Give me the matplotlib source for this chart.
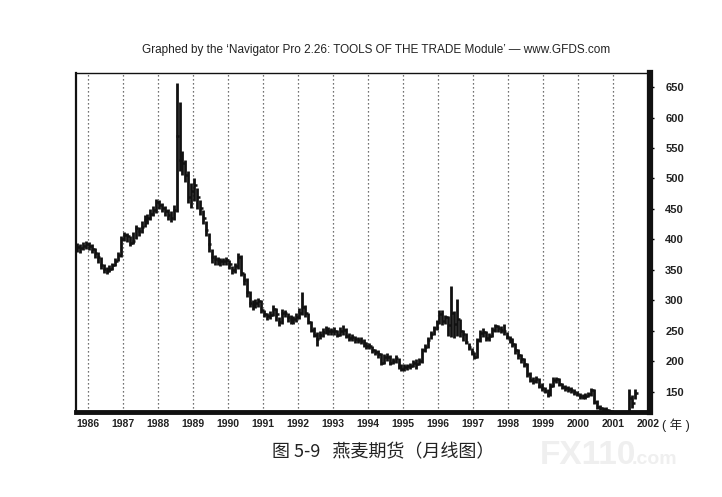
import matplotlib
matplotlib.use('Agg')
import matplotlib.pyplot as plt
import numpy as np

plt.rcParams['font.family'] = ['Liberation Sans', 'Noto Sans CJK SC', 'DejaVu Sans']

# monthly oats futures bars, Sep 1985 .. Aug 2001
first_year, first_month = 1985, 9

close = [
    388, 386, 390, 392,
    390, 385, 378, 372, 358, 352, 348, 352, 358, 365, 375, 400,
    407, 405, 395, 398, 418, 414, 420, 432, 436, 441, 448, 462,
    457, 452, 446, 440, 436, 448, 570, 530, 525, 505, 470, 480,
    490, 470, 452, 436, 415, 392, 372, 368, 366, 365, 364, 367,
    360, 350, 356, 372, 345, 334, 313, 296, 292, 295, 299, 285,
    277, 274, 276, 286, 278, 265, 280, 280, 272, 270, 269, 272,
    280, 290, 280, 265, 252, 244, 236, 244, 248, 253, 250, 250,
    250, 244, 250, 252, 241, 239, 240, 236, 235, 234, 230, 226,
    225, 219, 215, 212, 198, 207, 208, 197, 200, 205, 193, 188,
    190, 192, 193, 197, 196, 200, 218, 224, 235, 245, 255, 265,
    278, 266, 272, 260, 280, 262, 270, 250, 245, 232, 224, 216,
    208, 235, 247, 248, 238, 242, 252, 258, 255, 252, 250, 240,
    236, 228, 218, 210, 204, 196, 180, 170, 168, 171, 160, 157,
    152, 146, 160, 170, 171, 163, 158, 157, 155, 153, 150, 147,
    143, 141, 144, 146, 153, 134, 126, 123, 122, 121, 118, 114,
    110, 106, 104, 102, 100, 140, 132, 148,
]
high = [
    395, 392, 396, 398,
    396, 392, 386, 380, 372, 360, 355, 358, 362, 370, 380, 405,
    412, 410, 406, 412, 424, 420, 430, 440, 442, 450, 455, 467,
    465, 460, 455, 450, 446, 456, 657, 626, 545, 530, 512, 492,
    501, 485, 465, 448, 430, 410, 385, 375, 372, 370, 370, 372,
    366, 356, 362, 377, 375, 345, 336, 315, 300, 302, 304, 300,
    285, 280, 282, 292, 288, 272, 286, 285, 280, 276, 275, 280,
    288, 313, 292, 280, 266, 256, 248, 250, 254, 258, 256, 255,
    256, 252, 256, 260, 254, 246, 245, 242, 240, 240, 236, 232,
    230, 226, 220, 218, 214, 212, 213, 210, 206, 210, 206, 195,
    195, 196, 198, 202, 204, 206, 222, 228, 240, 250, 258, 268,
    285, 285, 276, 275, 324, 282, 302, 269, 252, 246, 230, 222,
    215, 238, 252, 254, 250, 246, 256, 262, 260, 258, 262, 248,
    242, 238, 230, 220, 212, 206, 198, 182, 174, 176, 172, 164,
    158, 155, 164, 174, 175, 172, 165, 162, 160, 158, 155, 152,
    148, 146, 148, 150, 156, 154, 136, 128, 126, 125, 122, 120,
    114, 110, 108, 106, 104, 155, 145, 155,
]
low = [
    380, 378, 383, 384,
    382, 378, 370, 362, 352, 345, 344, 346, 350, 356, 364, 372,
    398, 396, 390, 392, 400, 406, 410, 420, 426, 432, 438, 444,
    450, 445, 438, 432, 428, 432, 445, 512, 506, 495, 460, 452,
    463, 450, 440, 425, 405, 380, 362, 358, 358, 356, 358, 358,
    352, 343, 345, 352, 340, 326, 305, 290, 285, 288, 290, 280,
    272, 268, 270, 275, 266, 258, 262, 272, 265, 262, 262, 265,
    270, 276, 272, 262, 248, 240, 225, 236, 240, 245, 244, 243,
    244, 240, 242, 244, 238, 234, 234, 230, 230, 228, 224, 220,
    220, 214, 210, 205, 194, 196, 200, 194, 195, 198, 188, 184,
    184, 186, 188, 190, 188, 194, 198, 215, 222, 236, 244, 252,
    262, 260, 262, 242, 240, 238, 242, 240, 233, 228, 218, 210,
    204, 206, 232, 240, 234, 234, 240, 248, 248, 246, 244, 236,
    230, 224, 212, 204, 198, 190, 174, 166, 163, 164, 156, 152,
    148, 142, 144, 158, 164, 160, 155, 152, 150, 148, 145, 143,
    139, 138, 139, 141, 144, 130, 122, 120, 119, 117, 113, 110,
    106, 102, 100, 98, 96, 98, 124, 139,
]

year_labels = list(range(1986, 2003))
price_ticks = [150, 200, 250, 300, 350, 400, 450, 500, 550, 600, 650]

title = "Graphed by the \u2018Navigator Pro 2.26: TOOLS OF THE TRADE Module\u2019 \u2014 www.GFDS.com"
caption = "图 5-9   燕麦期货（月线图）"

n = len(close)
t = first_year + (first_month - 1 + np.arange(n) + 0.5) / 12.0

fig = plt.figure(figsize=(7.22, 4.97), dpi=100)
ax = fig.add_axes([76 / 722, 1 - 412 / 497, (650 - 76) / 722, (412 - 73) / 497])

# dotted year lines
for yr in year_labels[:-1]:
    ax.axvline(yr, color='#444444', lw=0.9, linestyle=(0, (1, 2.2)), zorder=1)

ax.vlines(t, low, high, color='#111111', lw=2.0, zorder=3)
ax.hlines(close, t - 0.01, t + 0.075, color='#111111', lw=1.8, zorder=3)

ax.set_xlim(1985.67, 2002.05)
ax.set_ylim(117, 673)

ax.yaxis.tick_right()
ax.set_yticks(price_ticks)
ax.set_yticklabels([str(v) for v in price_ticks], fontweight='bold', fontsize=8, color='#222222')
ax.set_yticks(np.arange(120, 671, 10), minor=True)
ax.tick_params(axis='y', which='major', length=3, width=1.0, pad=8, direction='out')
ax.tick_params(axis='y', which='minor', length=1.5, width=0.8, direction='out')

ax.set_xticks(year_labels)
ax.set_xticklabels([str(y) for y in year_labels], fontweight='bold', fontsize=7.5, color='#222222')
ax.tick_params(axis='x', length=0, pad=5)
ax.text(2002.4, -0.04, "( 年 )", transform=ax.get_xaxis_transform(), fontsize=9,
        ha='left', va='center', color='#222222', clip_on=False)

for side, w in [('left', 1.6), ('top', 1.0), ('bottom', 3.5), ('right', 4.5)]:
    ax.spines[side].set_linewidth(w)
    ax.spines[side].set_color('#111111')

fig.text(376 / 722, 1 - 50 / 497, title, ha='center', va='center', fontsize=8.5, color='#222222')
fig.text(383 / 722, 1 - 452 / 497, caption, ha='center', va='center', fontsize=13,
         color='#222222', family=['Noto Sans CJK SC', 'DejaVu Sans'])

# faint scan watermark
fig.text(540 / 722, 1 - 455 / 497, "FX110", ha='left', va='center', fontsize=24,
         fontweight='bold', color='#efefef', zorder=0)
fig.text(632 / 722, 1 - 460 / 497, ".com", ha='left', va='center', fontsize=14,
         fontweight='bold', color='#efefef', zorder=0)

fig.savefig('out.png', dpi=100)
